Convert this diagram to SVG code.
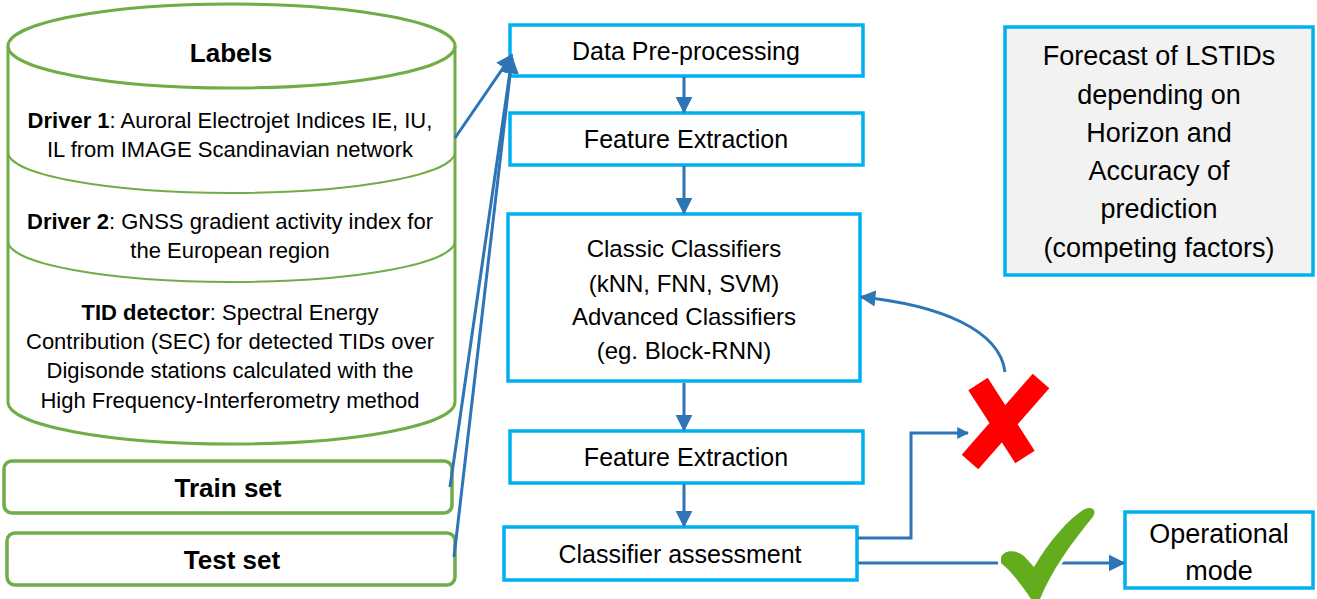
<svg xmlns="http://www.w3.org/2000/svg" width="1317" height="599" viewBox="0 0 1317 599">
<style>
text{font-family:"Liberation Sans",Arial,sans-serif;fill:#000;text-anchor:middle}
.cyl{fill:#fff;stroke:#70AD47;stroke-width:3}
.div{fill:none;stroke:#70AD47;stroke-width:2}
.gbox{fill:#fff;stroke:#70AD47;stroke-width:3.5}
.bbox{fill:#fff;stroke:#00B0F0;stroke-width:3.5}
.ct{font-size:22px}
.ft{font-size:25px}
.con{fill:none;stroke:#2E75B6;stroke-width:3}
</style>
<defs>
<marker id="ah" viewBox="0 0 10 10" refX="9" refY="5" markerUnits="userSpaceOnUse" markerWidth="17" markerHeight="19" orient="auto"><path d="M0,0 L10,5 L0,10 z" fill="#2E75B6"/></marker>
<marker id="ahs" viewBox="0 0 10 10" refX="9" refY="5" markerUnits="userSpaceOnUse" markerWidth="12" markerHeight="12" orient="auto"><path d="M0,0 L10,5 L0,10 z" fill="#2E75B6"/></marker>
<marker id="ahm" viewBox="0 0 10 10" refX="9" refY="5" markerUnits="userSpaceOnUse" markerWidth="16" markerHeight="16" orient="auto"><path d="M0,0 L10,5 L0,10 z" fill="#2E75B6"/></marker>
</defs>

<g id="labels-db">
<path class="cyl" d="M8,46 L8,402 A223.5,42 0 0 0 455,402 L455,46"/>
<ellipse class="cyl" cx="231.5" cy="46" rx="223.5" ry="42"/>
<path class="div" d="M8,152 A223.5,41 0 0 0 455,152"/>
<path class="div" d="M8,241 A223.5,41 0 0 0 455,241"/>
<text x="231" y="62" font-size="26" font-weight="bold">Labels</text>
<text class="ct" x="230" y="128"><tspan font-weight="bold">Driver 1</tspan>: Auroral Electrojet Indices IE, IU,</text>
<text class="ct" x="230" y="157">IL from IMAGE Scandinavian network</text>
<text class="ct" x="230" y="229"><tspan font-weight="bold">Driver 2</tspan>: GNSS gradient activity index for</text>
<text class="ct" x="230" y="258">the European region</text>
<text class="ct" x="230" y="320"><tspan font-weight="bold">TID detector</tspan>: Spectral Energy</text>
<text class="ct" x="230" y="349">Contribution (SEC) for detected TIDs over</text>
<text class="ct" x="230" y="378">Digisonde stations calculated with the</text>
<text class="ct" x="230" y="408">High Frequency-Interferometry method</text>
</g>

<g id="train-set">
<rect class="gbox" x="4" y="461" width="448" height="52" rx="8"/>
<text x="228" y="497" font-size="26" font-weight="bold">Train set</text>
</g>
<g id="test-set">
<rect class="gbox" x="7" y="533" width="448" height="52" rx="8"/>
<text x="232" y="569" font-size="26" font-weight="bold">Test set</text>
</g>

<g id="data-preprocessing">
<rect class="bbox" x="510" y="25" width="353" height="51"/>
<text class="ft" x="686" y="60">Data Pre-processing</text>
</g>
<g id="feature-extraction-1">
<rect class="bbox" x="510" y="113" width="353" height="52"/>
<text class="ft" x="686" y="148">Feature Extraction</text>
</g>
<g id="classifiers">
<rect class="bbox" x="508" y="214" width="352" height="167"/>
<text x="684" y="257" font-size="24">Classic Classifiers</text>
<text x="684" y="292" font-size="24">(kNN, FNN, SVM)</text>
<text x="684" y="325" font-size="24">Advanced Classifiers</text>
<text x="684" y="359" font-size="24">(eg. Block-RNN)</text>
</g>
<g id="feature-extraction-2">
<rect class="bbox" x="510" y="431" width="353" height="52"/>
<text class="ft" x="686" y="466">Feature Extraction</text>
</g>
<g id="classifier-assessment">
<rect class="bbox" x="504" y="527" width="353" height="53"/>
<text class="ft" x="680" y="563">Classifier assessment</text>
</g>
<g id="forecast">
<rect x="1005" y="27" width="308" height="248" fill="#F2F2F2" stroke="#00B0F0" stroke-width="3.5"/>
<text x="1159" y="65" font-size="27">Forecast of LSTIDs</text>
<text x="1159" y="104" font-size="27">depending on</text>
<text x="1159" y="142" font-size="27">Horizon and</text>
<text x="1159" y="180" font-size="27">Accuracy of</text>
<text x="1159" y="218" font-size="27">prediction</text>
<text x="1159" y="257" font-size="27">(competing factors)</text>
</g>
<g id="operational-mode">
<rect class="bbox" x="1125" y="512" width="188" height="76"/>
<text x="1219" y="543" font-size="27">Operational</text>
<text x="1219" y="580" font-size="27">mode</text>
</g>

<g id="connectors">
<line class="con" x1="455" y1="138" x2="512" y2="55" marker-end="url(#ah)"/>
<line class="con" x1="450" y1="487" x2="512" y2="58" stroke-width="3.5" marker-end="url(#ah)"/>
<line class="con" x1="454" y1="557" x2="512" y2="58" stroke-width="3.5" marker-end="url(#ah)"/>
<line class="con" x1="684" y1="77" x2="684" y2="112" marker-end="url(#ah)"/>
<line class="con" x1="684" y1="166" x2="684" y2="213" marker-end="url(#ah)"/>
<line class="con" x1="684" y1="383" x2="684" y2="430" marker-end="url(#ah)"/>
<line class="con" x1="684" y1="484" x2="684" y2="526" marker-end="url(#ah)"/>
<polyline class="con" points="858,538 911,538 911,433 968,433" marker-end="url(#ahs)"/>
<line class="con" x1="858" y1="563" x2="1124" y2="563" marker-end="url(#ah)"/>
<path class="con" d="M1005,372 C1000,330 940,305 861,297" marker-end="url(#ahm)"/>
</g>

<g id="reject-mark">
<line x1="978" y1="384" x2="1025" y2="457" stroke="#FF0000" stroke-width="23"/>
<line x1="1041" y1="381" x2="970" y2="462" stroke="#FF0000" stroke-width="22"/>
</g>
<g id="accept-mark">
<path d="M1001,558 C1003,550 1015,549 1024,556 L1034,567 C1050,540 1068,520 1083,510 C1092,505 1098,510 1092,518 C1070,545 1052,570 1040,599 L1031,599 C1022,585 1010,570 1001,563 Z" fill="#62AC1E" stroke="#fff" stroke-width="6" paint-order="stroke"/>
</g>
</svg>
